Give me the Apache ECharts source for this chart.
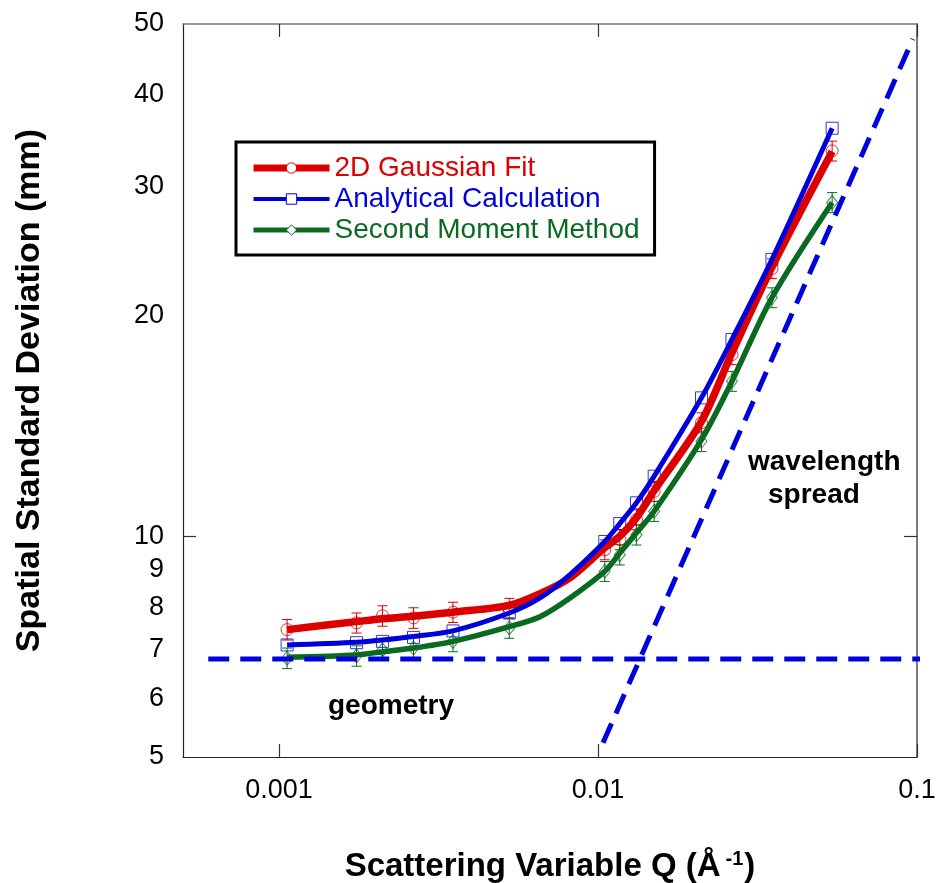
<!DOCTYPE html>
<html>
<head>
<meta charset="utf-8">
<script src="https://cdn.jsdelivr.net/npm/echarts@6/dist/echarts.min.js"></script>
<style>
  html, body { margin: 0; padding: 0; background: #ffffff; }
  #chart { width: 936px; height: 883px; }
</style>
</head>
<body>
<div id="chart"></div>
<script>
// Spatial standard deviation of the detector image versus scattering variable Q.

// Q values (1/Å) where the three methods were evaluated
const qPoints = [0.00106, 0.00175, 0.00211, 0.00264, 0.00351, 0.00527, 0.0105, 0.0117, 0.0132, 0.0150, 0.0211, 0.0263, 0.0351, 0.0542];

// measured / calculated widths (mm) at qPoints
const gaussPoints    = [7.46, 7.62, 7.79, 7.74, 7.88, 7.98, 9.59, 9.90, 10.54, 11.52, 14.29, 17.70, 23.19, 33.56];
const gaussErrors    = [0.24, 0.24, 0.25, 0.25, 0.25, 0.25, 0.30, 0.31, 0.33, 0.36, 0.45, 0.55, 0.72, 1.05];
const analyticPoints = [7.11, 7.16, 7.19, 7.28, 7.43, 7.86, 9.84, 10.41, 11.11, 12.08, 15.45, 18.56, 23.87, 36.04];
const momentPoints   = [6.82, 6.87, 7.00, 7.04, 7.19, 7.50, 8.96, 9.44, 10.05, 10.82, 13.48, 16.28, 21.17, 28.54];
const momentErrors   = [0.22, 0.22, 0.22, 0.23, 0.23, 0.24, 0.28, 0.30, 0.32, 0.34, 0.43, 0.51, 0.66, 0.90];

// smooth trend curves through each method
const qCurve        = [0.00106, 0.00175, 0.00211, 0.00264, 0.00351, 0.00527, 0.00658, 0.00817, 0.0105, 0.0117, 0.0132, 0.0150, 0.0211, 0.0263, 0.0351, 0.0542];
const gaussCurve    = [7.46, 7.65, 7.72, 7.78, 7.88, 8.05, 8.35, 8.78, 9.65, 10.00, 10.60, 11.55, 14.35, 17.80, 23.30, 33.50];
const analyticCurve = [7.11, 7.17, 7.22, 7.30, 7.43, 7.86, 8.24, 8.87, 9.84, 10.41, 11.11, 12.08, 15.45, 18.56, 23.87, 36.04];
const momentCurve   = [6.84, 6.89, 6.96, 7.04, 7.19, 7.53, 7.77, 8.24, 8.96, 9.49, 10.11, 10.82, 13.55, 16.28, 21.17, 28.54];

// limiting contributions: detector geometry (flat) and wavelength spread (∝ Q)
const geometryLimit   = [[0.0006, 6.80], [0.115, 6.80]];
const wavelengthLimit = [[0.01037, 5.23], [0.0971, 47.7]];

// axis ticks and labels
const xTickValues  = [0.001, 0.01, 0.1];
const xTickLabels  = ['0.001', '0.01', '0.1'];
const yLabelValues = [5, 6, 7, 8, 9, 10, 20, 30, 40, 50];
const yLabelText   = ['5', '6', '7', '8', '9', '10', '20', '30', '40', '50'];
const yTickValues  = [10];

const seriesNames = ['2D Gaussian Fit', 'Analytical Calculation', 'Second Moment Method'];

const FONT = "'Liberation Sans', Arial, Helvetica, sans-serif";
const RED = '#dd0000';
const BLUE = '#0000dd';
const GREEN = '#0b6a22';
const DASH_BLUE = '#0000dd';

function pairs(xs, ys) { return xs.map((x, i) => [x, ys[i]]); }
function triples(xs, ys, es) { return xs.map((x, i) => [x, ys[i], es[i]]); }

function lookup(values, labels) {
  return function (v) {
    let best = 0;
    for (let i = 1; i < values.length; i++) {
      if (Math.abs(Math.log(values[i] / v)) < Math.abs(Math.log(values[best] / v))) best = i;
    }
    return labels[best];
  };
}

function errorBars(color) {
  return function (params, api) {
    const q = api.value(0), v = api.value(1), e = api.value(2);
    const hi = api.coord([q, v + e]);
    const lo = api.coord([q, v - e]);
    const cap = 5;
    const style = { stroke: color, lineWidth: 1, fill: null };
    return {
      type: 'group',
      children: [
        { type: 'line', shape: { x1: hi[0], y1: hi[1], x2: lo[0], y2: lo[1] }, style: style },
        { type: 'line', shape: { x1: hi[0] - cap, y1: hi[1], x2: hi[0] + cap, y2: hi[1] }, style: style },
        { type: 'line', shape: { x1: lo[0] - cap, y1: lo[1], x2: lo[0] + cap, y2: lo[1] }, style: style }
      ]
    };
  };
}

const chart = echarts.init(document.getElementById('chart'), null, { renderer: 'canvas' });

const baseLogX = {
  type: 'log', logBase: 10, min: 0.0005, max: 0.1,
  splitLine: { show: false }, minorTick: { show: false }
};
const baseLogY = {
  type: 'log', logBase: 10, min: 5, max: 50,
  splitLine: { show: false }, minorTick: { show: false }
};

const option = {
  animation: false,
  backgroundColor: '#ffffff',
  textStyle: { fontFamily: FONT },
  grid: { left: 183, right: 19, top: 24, bottom: 126, containLabel: false, outerBoundsMode: 'none' },
  legend: {
    orient: 'vertical',
    left: 236, top: 142,
    padding: [12, 15, 11, 14],
    itemWidth: 76, itemHeight: 13, itemGap: 3,
    borderColor: '#000000', borderWidth: 3, borderRadius: 0,
    backgroundColor: '#ffffff',
    selectedMode: false,
    textStyle: { fontFamily: FONT, fontSize: 28 },
    data: [
      { name: seriesNames[0], textStyle: { color: RED },
        lineStyle: { color: RED, width: 7 },
        itemStyle: { color: '#ffffff', borderColor: RED, borderWidth: 1 } },
      { name: seriesNames[1], textStyle: { color: BLUE },
        lineStyle: { color: BLUE, width: 4 },
        itemStyle: { color: '#ffffff', borderColor: BLUE, borderWidth: 1 } },
      { name: seriesNames[2], textStyle: { color: GREEN },
        lineStyle: { color: GREEN, width: 5 },
        itemStyle: { color: '#ffffff', borderColor: GREEN, borderWidth: 1 } }
    ]
  },
  xAxis: [
    Object.assign({}, baseLogX, {
      position: 'bottom',
      axisLine: { show: true, lineStyle: { color: '#222222', width: 1.2 } },
      axisTick: { show: true, inside: true, length: 13, customValues: xTickValues,
                  lineStyle: { color: '#333333', width: 1.2 } },
      axisLabel: { show: true, customValues: xTickValues, formatter: lookup(xTickValues, xTickLabels),
                   color: '#000000', fontFamily: FONT, fontSize: 27, margin: 20 },
      name: '{b|Scattering Variable Q (Å}{s|-1}{b|)}',
      nameLocation: 'middle',
      nameGap: 92,
      nameTextStyle: {
        rich: {
          b: { fontFamily: FONT, fontWeight: 'bold', fontSize: 33, color: '#000000' },
          s: { fontFamily: FONT, fontWeight: 'bold', fontSize: 20, color: '#000000',
               verticalAlign: 'bottom', padding: [0, 1, 16, 5] }
        }
      }
    }),
    Object.assign({}, baseLogX, {
      position: 'top',
      axisLine: { show: true, lineStyle: { color: '#7a7a7a', width: 1.5 } },
      axisTick: { show: true, inside: true, length: 13, customValues: xTickValues,
                  lineStyle: { color: '#333333', width: 1.2 } },
      axisLabel: { show: false }
    })
  ],
  yAxis: [
    Object.assign({}, baseLogY, {
      position: 'left',
      axisLine: { show: true, lineStyle: { color: '#222222', width: 1.2 } },
      axisTick: { show: true, inside: true, length: 13, customValues: yTickValues,
                  lineStyle: { color: '#333333', width: 1.2 } },
      axisLabel: { show: true, customValues: yLabelValues, formatter: lookup(yLabelValues, yLabelText),
                   color: '#000000', fontFamily: FONT, fontSize: 27, margin: 19 },
      name: 'Spatial Standard Deviation (mm)',
      nameLocation: 'middle',
      nameGap: 136,
      nameTextStyle: { fontFamily: FONT, fontWeight: 'bold', fontSize: 34, color: '#000000' }
    }),
    Object.assign({}, baseLogY, {
      position: 'right',
      axisLine: { show: true, lineStyle: { color: '#7a7a7a', width: 2 } },
      axisTick: { show: true, inside: true, length: 13, customValues: yTickValues,
                  lineStyle: { color: '#333333', width: 1.2 } },
      axisLabel: { show: false }
    })
  ],
  graphic: [
    { type: 'text', left: 328, top: 692, silent: true,
      style: { text: 'geometry', font: 'bold 28px ' + FONT, fill: '#000000' } },
    { type: 'text', left: 748, top: 448, silent: true,
      style: { text: 'wavelength', font: 'bold 28px ' + FONT, fill: '#000000' } },
    { type: 'text', left: 768, top: 481, silent: true,
      style: { text: 'spread', font: 'bold 28px ' + FONT, fill: '#000000' } }
  ],
  series: [
    // data markers (hollow) and error bars, drawn beneath the trend curves
    { type: 'scatter', name: 'gauss-points', data: pairs(qPoints, gaussPoints), z: 2, silent: true,
      symbol: 'circle', symbolSize: 12,
      itemStyle: { color: 'rgba(0,0,0,0)', borderColor: RED, borderWidth: 1 } },
    { type: 'custom', name: 'gauss-errors', data: triples(qPoints, gaussPoints, gaussErrors), z: 2,
      silent: true, encode: { x: 0, y: 1 }, renderItem: errorBars(RED) },
    { type: 'scatter', name: 'analytic-points', data: pairs(qPoints, analyticPoints), z: 2, silent: true,
      symbol: 'rect', symbolSize: 12,
      itemStyle: { color: 'rgba(0,0,0,0)', borderColor: BLUE, borderWidth: 1 } },
    { type: 'scatter', name: 'moment-points', data: pairs(qPoints, momentPoints), z: 2, silent: true,
      symbol: 'diamond', symbolSize: [11, 14],
      itemStyle: { color: 'rgba(0,0,0,0)', borderColor: GREEN, borderWidth: 1 } },
    { type: 'custom', name: 'moment-errors', data: triples(qPoints, momentPoints, momentErrors), z: 2,
      silent: true, encode: { x: 0, y: 1 }, renderItem: errorBars(GREEN) },

    // trend curves
    { type: 'line', name: seriesNames[0], data: pairs(qCurve, gaussCurve), z: 3, silent: true,
      smooth: 0.3, showSymbol: false, symbol: 'circle',
      itemStyle: { color: RED }, lineStyle: { color: RED, width: 7.5 } },
    { type: 'line', name: seriesNames[2], data: pairs(qCurve, momentCurve), z: 4, silent: true,
      smooth: 0.3, showSymbol: false, symbol: 'diamond',
      itemStyle: { color: GREEN }, lineStyle: { color: GREEN, width: 5.5 } },
    { type: 'line', name: seriesNames[1], data: pairs(qCurve, analyticCurve), z: 5, silent: true,
      smooth: 0.3, showSymbol: false, symbol: 'rect',
      itemStyle: { color: BLUE }, lineStyle: { color: BLUE, width: 5 } },

    // limiting contributions
    { type: 'line', name: 'geometry-limit', data: geometryLimit, z: 6, silent: true, clip: false,
      showSymbol: false, symbol: 'none',
      lineStyle: { color: DASH_BLUE, width: 5, type: [21, 11], cap: 'butt' } },
    { type: 'line', name: 'wavelength-limit', data: wavelengthLimit, z: 6, silent: true, clip: false,
      showSymbol: false, symbol: 'none',
      lineStyle: { color: DASH_BLUE, width: 5, type: [21, 11], cap: 'butt' } }
  ]
};

chart.setOption(option);
</script>
</body>
</html>
